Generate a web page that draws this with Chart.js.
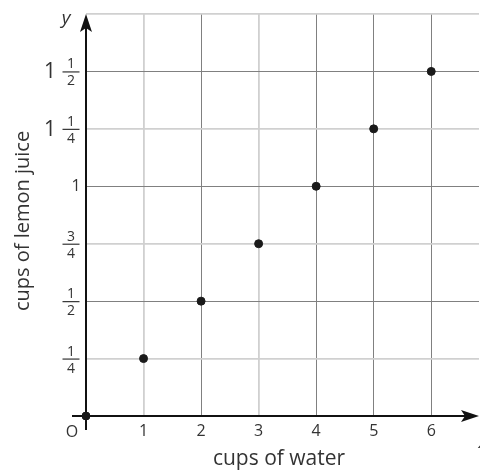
<!DOCTYPE html>
<html>
<head>
<meta charset="utf-8">
<script src="https://cdn.jsdelivr.net/npm/chart.js@4"></script>
<style>
  html, body { margin: 0; padding: 0; background: #fff; overflow: hidden; }
  canvas { display: block; }
</style>
</head>
<body>
<canvas id="plots" width="480" height="471"></canvas>
<script>
// data
var water = [0, 1, 2, 3, 4, 5, 6];            // x: cups of water
var lemon = [0, 0.25, 0.5, 0.75, 1, 1.25, 1.5]; // y: cups of lemon juice
var xTickLabels = ["1", "2", "3", "4", "5", "6"];
var yTickValues = [0.25, 0.5, 0.75, 1, 1.25, 1.5];
var yTickWhole = ["", "", "", "1", "1", "1"];
var yTickFrac = [["1", "4"], ["1", "2"], ["3", "4"], null, ["1", "4"], ["1", "2"]];
var xDark = [2, 4, 5, 6];          // darker vertical grid lines
var yDark = [0.5, 1, 1.5];         // darker horizontal grid lines

var FONT = "'Open Sans', 'Noto Sans', sans-serif";
var TEXT = "#333";

// axes, arrows and fraction labels drawn on top of the library's scales
var axesPlugin = {
  id: "axes",
  beforeDatasetsDraw: function (chart) {
    var ctx = chart.ctx, xs = chart.scales.x, ys = chart.scales.y;
    var x0 = xs.getPixelForValue(0), y0 = ys.getPixelForValue(0);
    var area = chart.chartArea;
    ctx.save();
    ctx.strokeStyle = "#111";
    ctx.fillStyle = "#111";
    ctx.lineWidth = 2;
    // y axis
    ctx.beginPath();
    ctx.moveTo(x0, y0 + 14);
    ctx.lineTo(x0, area.top + 10);
    ctx.stroke();
    // x axis
    ctx.beginPath();
    ctx.moveTo(x0 - 14, y0);
    ctx.lineTo(area.right - 8, y0);
    ctx.stroke();
    // arrow heads
    ctx.beginPath();
    ctx.moveTo(x0, area.top);
    ctx.lineTo(x0 + 6, area.top + 18);
    ctx.lineTo(x0, area.top + 14);
    ctx.lineTo(x0 - 6, area.top + 18);
    ctx.closePath();
    ctx.fill();
    ctx.beginPath();
    ctx.moveTo(area.right, y0);
    ctx.lineTo(area.right - 18, y0 - 6);
    ctx.lineTo(area.right - 14, y0);
    ctx.lineTo(area.right - 18, y0 + 6);
    ctx.closePath();
    ctx.fill();
    ctx.restore();
  },
  afterDraw: function (chart) {
    var ctx = chart.ctx, xs = chart.scales.x, ys = chart.scales.y;
    var x0 = xs.getPixelForValue(0), y0 = ys.getPixelForValue(0);
    ctx.save();
    ctx.fillStyle = TEXT;
    ctx.strokeStyle = TEXT;
    // x tick labels
    ctx.font = "16px " + FONT;
    ctx.textAlign = "center";
    ctx.textBaseline = "middle";
    xTickLabels.forEach(function (t, i) {
      ctx.fillText(t, xs.getPixelForValue(i + 1), y0 + 15);
    });
    // y tick labels (mixed numbers / fractions)
    yTickValues.forEach(function (v, i) {
      var py = ys.getPixelForValue(v);
      var frac = yTickFrac[i];
      var fx = x0 - 15;
      if (frac) {
        ctx.font = "14px " + FONT;
        ctx.textAlign = "center";
        ctx.textBaseline = "middle";
        ctx.fillText(frac[0], fx, py - 7);
        ctx.fillText(frac[1], fx, py + 10);
        ctx.lineWidth = 1.2;
        ctx.beginPath();
        ctx.moveTo(fx - 8.5, py + 0.5);
        ctx.lineTo(fx + 8.5, py + 0.5);
        ctx.stroke();
        if (yTickWhole[i]) {
          ctx.font = "21px " + FONT;
          ctx.textAlign = "center";
          ctx.fillText(yTickWhole[i], x0 - 36, py + 1);
        }
      } else {
        ctx.font = "16px " + FONT;
        ctx.textAlign = "center";
        ctx.textBaseline = "middle";
        ctx.fillText(yTickWhole[i], x0 - 10, py);
      }
    });
    // origin, axis letters
    ctx.font = "16px " + FONT;
    ctx.textAlign = "center";
    ctx.fillText("O", x0 - 14, y0 + 16);
    ctx.font = "italic 19px " + FONT;
    ctx.fillText("y", x0 - 20, 19);
    ctx.fillText("x", chart.chartArea.right + 4, y0 + 27);
    // axis titles
    ctx.font = "21px " + FONT;
    ctx.fillText("cups of water", 279, 459);
    ctx.font = "20px " + FONT;
    ctx.translate(23, 221);
    ctx.rotate(-Math.PI / 2);
    ctx.fillText("cups of lemon juice", 0, 0);
    ctx.restore();
  }
};

function gridColor(darkList) {
  return function (c) {
    var v = c.tick && c.tick.value;
    if (v === undefined || v === 0) return "transparent";
    if (darkList.indexOf(v) >= 0) return "#808080";
    if (Math.abs(v * 4 - Math.round(v * 4)) > 1e-6) return "transparent";
    return "#d0d0d0";
  };
}

function gridWidth(darkList) {
  return function (c) {
    return darkList.indexOf(c.tick && c.tick.value) >= 0 ? 1 : 1.8;
  };
}

new Chart(document.getElementById("plots"), {
  type: "scatter",
  data: {
    datasets: [{
      data: water.map(function (w, i) { return { x: w, y: lemon[i] }; }),
      backgroundColor: "#1a1a1a",
      borderColor: "#1a1a1a",
      pointRadius: 4,
      pointHoverRadius: 4,
      clip: false
    }]
  },
  options: {
    responsive: false,
    animation: false,
    layout: { autoPadding: false, padding: { left: 86, right: 1, top: 14, bottom: 55 } },
    plugins: { legend: { display: false }, tooltip: { enabled: false } },
    scales: {
      x: {
        type: "linear",
        min: 0,
        max: 6.83,
        ticks: { display: false, stepSize: 1 },
        border: { display: false },
        grid: { drawTicks: false, tickLength: 0, color: gridColor(xDark), lineWidth: gridWidth(xDark) }
      },
      y: {
        type: "linear",
        min: 0,
        max: 1.75,
        ticks: { display: false, stepSize: 0.25 },
        border: { display: false },
        grid: { drawTicks: false, tickLength: 0, color: gridColor(yDark), lineWidth: gridWidth(yDark) }
      }
    }
  },
  plugins: [axesPlugin]
});
</script>
</body>
</html>
